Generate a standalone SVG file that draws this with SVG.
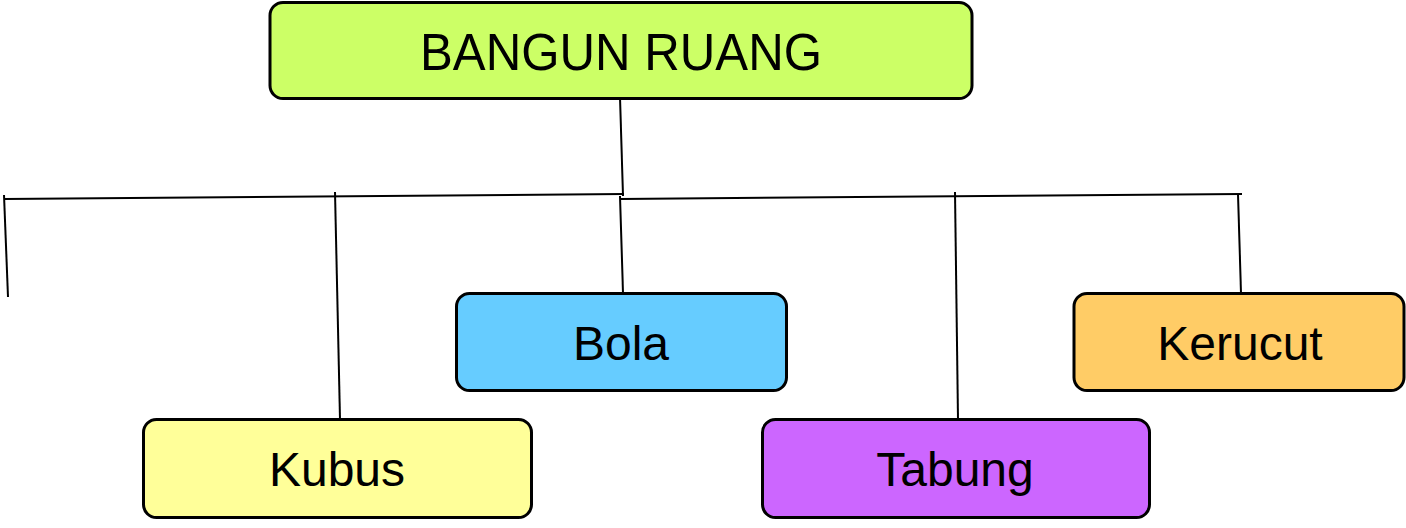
<svg xmlns="http://www.w3.org/2000/svg" width="1406" height="528" viewBox="0 0 1406 528">
<style>
.box{stroke:#000;stroke-width:3}
.lbl{font-family:"Liberation Sans",Arial,sans-serif;font-size:48px;fill:#000;text-anchor:middle}
.c{stroke:#000;stroke-width:2;fill:none}
</style>
<rect width="1406" height="528" fill="#fff"/>
<g id="connectors">
<line class="c" x1="620" y1="97" x2="623" y2="196"/>
<line class="c" x1="4" y1="199" x2="624" y2="194"/>
<line class="c" x1="620" y1="199" x2="1242" y2="194"/>
<line class="c" x1="4" y1="195" x2="8" y2="297"/>
<line class="c" x1="335" y1="192" x2="340" y2="419"/>
<line class="c" x1="620" y1="196" x2="623" y2="293"/>
<line class="c" x1="955" y1="192" x2="958" y2="419"/>
<line class="c" x1="1238" y1="194" x2="1241" y2="293"/>
</g>
<g id="bangun-ruang">
<rect class="box" x="270" y="2.5" width="702" height="96" rx="13" fill="#ccff66"/>
<text class="lbl" x="621" y="70" style="font-size:51px" textLength="402" lengthAdjust="spacingAndGlyphs">BANGUN RUANG</text>
</g>
<g id="bola">
<rect class="box" x="456.5" y="293.5" width="330" height="97" rx="13" fill="#66ccff"/>
<text class="lbl" x="621" y="360">Bola</text>
</g>
<g id="kubus">
<rect class="box" x="143.5" y="419.5" width="388" height="98" rx="13" fill="#ffff99"/>
<text class="lbl" x="337" y="486">Kubus</text>
</g>
<g id="tabung">
<rect class="box" x="762.5" y="419.5" width="387" height="98" rx="13" fill="#cc66ff"/>
<text class="lbl" x="955" y="486">Tabung</text>
</g>
<g id="kerucut">
<rect class="box" x="1074" y="293.5" width="330" height="97" rx="13" fill="#ffcc66"/>
<text class="lbl" x="1240" y="360">Kerucut</text>
</g>
</svg>
